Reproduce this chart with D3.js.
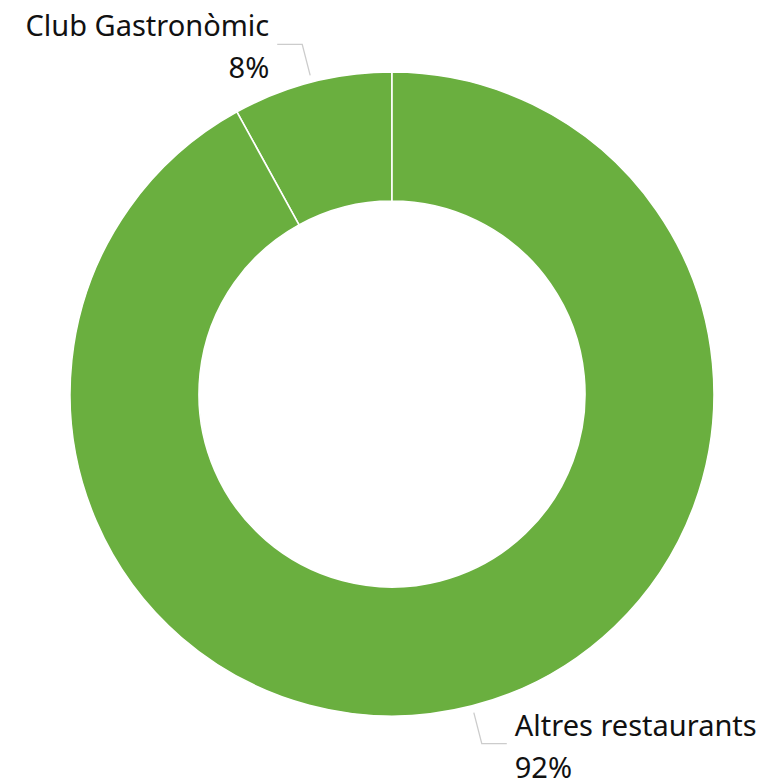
<!DOCTYPE html>
<html>
<head>
<meta charset="utf-8">
<script src="https://cdn.jsdelivr.net/npm/d3@7"></script>
<style>
  body { margin: 0; background: #fff; }
  text { font-family: "Noto Sans", "Open Sans", sans-serif; fill: #111; }
</style>
</head>
<body>
<div id="chart"></div>
<script>
// Data
var categories = ["Club Gastronòmic", "Altres restaurants"];
var values = [8, 92];
var valueLabels = ["8%", "92%"];

// Sizing
var svgWidth = 764;
var svgHeight = 782;
var cx = 392, cy = 394;
var outerR = 322, innerR = 193;

var svg = d3.select("#chart")
  .append("svg")
  .attr("width", svgWidth)
  .attr("height", svgHeight);

var g = svg.append("g")
  .attr("transform", `translate(${cx}, ${cy})`);

var data = categories.map((c, i) => ({ name: c, value: values[i], label: valueLabels[i] }));

// first slice runs counter-clockwise from 12 o'clock
var total = d3.sum(values);
var pie = d3.pie()
  .sort(null)
  .value(d => d.value)
  .startAngle(-2 * Math.PI * values[0] / total)
  .endAngle(2 * Math.PI - 2 * Math.PI * values[0] / total);

var arc = d3.arc().innerRadius(innerR).outerRadius(outerR);
var arcs = pie(data);

g.selectAll("path.slice")
  .data(arcs)
  .enter()
  .append("path")
  .attr("class", "slice")
  .attr("d", arc)
  .attr("fill", "#6aaf3f")
  .attr("stroke", "#fff")
  .attr("stroke-width", 1.6);

// leader lines + labels
var r1 = 329, r2 = 361, hLen = 25, gap = 8;
arcs.forEach(function(a) {
  var mid = (a.startAngle + a.endAngle) / 2;
  var x1 = r1 * Math.sin(mid), y1 = -r1 * Math.cos(mid);
  var x2 = r2 * Math.sin(mid), y2 = -r2 * Math.cos(mid);
  var right = Math.sin(mid) > 0;
  var x3 = x2 + (right ? hLen : -hLen);
  g.append("polyline")
    .attr("points", [[x1, y1], [x2, y2], [x3, y2]].map(p => p.join(",")).join(" "))
    .attr("fill", "none")
    .attr("stroke", "#cccccc")
    .attr("stroke-width", 1.3);
  var tx = x3 + (right ? gap : -gap);
  var anchor = right ? "start" : "end";
  g.append("text")
    .attr("x", tx)
    .attr("y", y2 - 8)
    .attr("text-anchor", anchor)
    .style("font-size", "29px")
    .text(a.data.name);
  g.append("text")
    .attr("x", tx)
    .attr("y", y2 + 34)
    .attr("text-anchor", anchor)
    .style("font-size", "29px")
    .text(a.data.label);
});
</script>
</body>
</html>
